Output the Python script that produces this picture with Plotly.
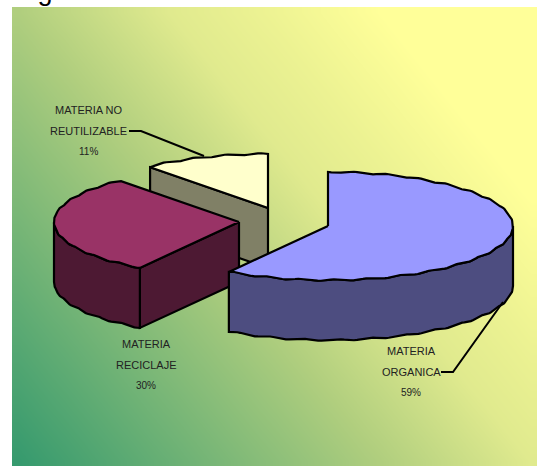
import numpy as np
import plotly.graph_objects as go

label_lines = [['MATERIA', 'ORGANICA'], ['MATERIA', 'RECICLAJE'], ['MATERIA NO', 'REUTILIZABLE']]
values = [59, 30, 11]
percents = ['59%', '30%', '11%']

top_colors = ['#9999FF', '#993366', '#FFFFCC']
side_colors = ['#4D4D80', '#4D1933', '#808066']

# exploded slice centres in page pixels
apex_x = [328, 239, 268]
apex_y = [226, 222, 208]
label_x = [411, 146, 88]
label_y = [351, 344, 110]
line_gap = 20.7
rx, ry, depth = 185, 54, 60

leader_x = [[441, 453, 503], [129, 141, 204]]
leader_y = [[372, 372, 302], [131, 131, 156]]

W, H = 537, 466
BG_LEFT, BG_TOP = 12, 7


def arc(cx, cy, a0, a1, drop=0):
    # a0, a1 are degrees clockwise from 12 o'clock
    n = max(int(abs(a1 - a0)), 2)
    t = np.radians(np.linspace(a0, a1, n))
    return cx + rx * np.sin(t), cy - ry * np.cos(t) + 0.8 * np.sin(t * 34) + drop


def poly(fig, x, y, color):
    fig.add_trace(go.Scatter(
        x=list(x), y=list(y), mode='lines', fill='toself', fillcolor=color,
        line=dict(color='black', width=2.2), hoverinfo='skip', showlegend=False,
    ))


fig = go.Figure()

# gradient panel behind the pie
n = 40
gx = np.linspace(BG_LEFT, W, n + 1)
gy = np.linspace(BG_TOP, H, n + 1)
u, v = np.meshgrid(np.linspace(0, 1, n), np.linspace(1, 0, n))
fig.add_trace(go.Heatmap(
    x=gx, y=gy, z=0.85 * u + 0.6 * v, zmin=0, zmax=1.45, zsmooth='best',
    showscale=False, hoverinfo='skip',
    colorscale=[[0, '#369A6E'], [0.414, '#B0CE7E'], [0.586, '#E0EA8E'],
                [0.69, '#ECF292'], [0.828, '#FFFF99'], [1, '#FFFF99']],
))

starts = np.cumsum([0] + values[:-1]) / sum(values) * 360
ends = np.cumsum(values) / sum(values) * 360

# back to front: yellow, red, blue
for i in [2, 1, 0]:
    cx, cy = apex_x[i], apex_y[i]
    a0, a1 = starts[i], ends[i]

    # cut face on the a0 side, when it looks towards the viewer
    if a0 > 180:
        px, py = arc(cx, cy, a0, a0 + 1)
        poly(fig, [cx, px[0], px[0], cx, cx], [cy, py[0], py[0] + depth, cy + depth, cy], side_colors[i])

    # outer wall, only the front half of the rim
    w0, w1 = max(a0, 90), min(a1, 270)
    if w1 > w0:
        xt, yt = arc(cx, cy, w0, w1)
        xb, yb = arc(cx, cy, w0, w1, depth)
        poly(fig, np.r_[xt, xb[::-1], xt[0]], np.r_[yt, yb[::-1], yt[0]], side_colors[i])

    xt, yt = arc(cx, cy, a0, a1)
    poly(fig, np.r_[cx, xt, cx], np.r_[cy, yt, cy], top_colors[i])

for lx, ly in zip(leader_x, leader_y):
    fig.add_trace(go.Scatter(x=lx, y=ly, mode='lines', line=dict(color='black', width=2),
                             hoverinfo='skip', showlegend=False))

for i in range(3):
    rows = label_lines[i] + [percents[i]]
    for j, row in enumerate(rows):
        fig.add_annotation(
            x=label_x[i], y=label_y[i] + j * line_gap, xanchor='center', yanchor='middle',
            showarrow=False, text=row,
            font=dict(family='Liberation Sans', size=10 if j == 2 else 11, color='#222222'),
        )

fig.add_annotation(x=13, y=8, xanchor='left', yanchor='bottom', showarrow=False,
                   text='Figura', font=dict(family='Liberation Sans', size=27, color='black'))

fig.update_layout(
    width=W, height=H, margin=dict(l=0, r=0, t=0, b=0),
    paper_bgcolor='white', plot_bgcolor='white', showlegend=False,
    xaxis=dict(range=[0, W], visible=False, fixedrange=True),
    yaxis=dict(range=[H, 0], visible=False, fixedrange=True),
)

# the page default of 8px body margin would shift everything
fig.write_html("out.html", config={'displayModeBar': False},
               post_script="document.body.style.margin='0';")
